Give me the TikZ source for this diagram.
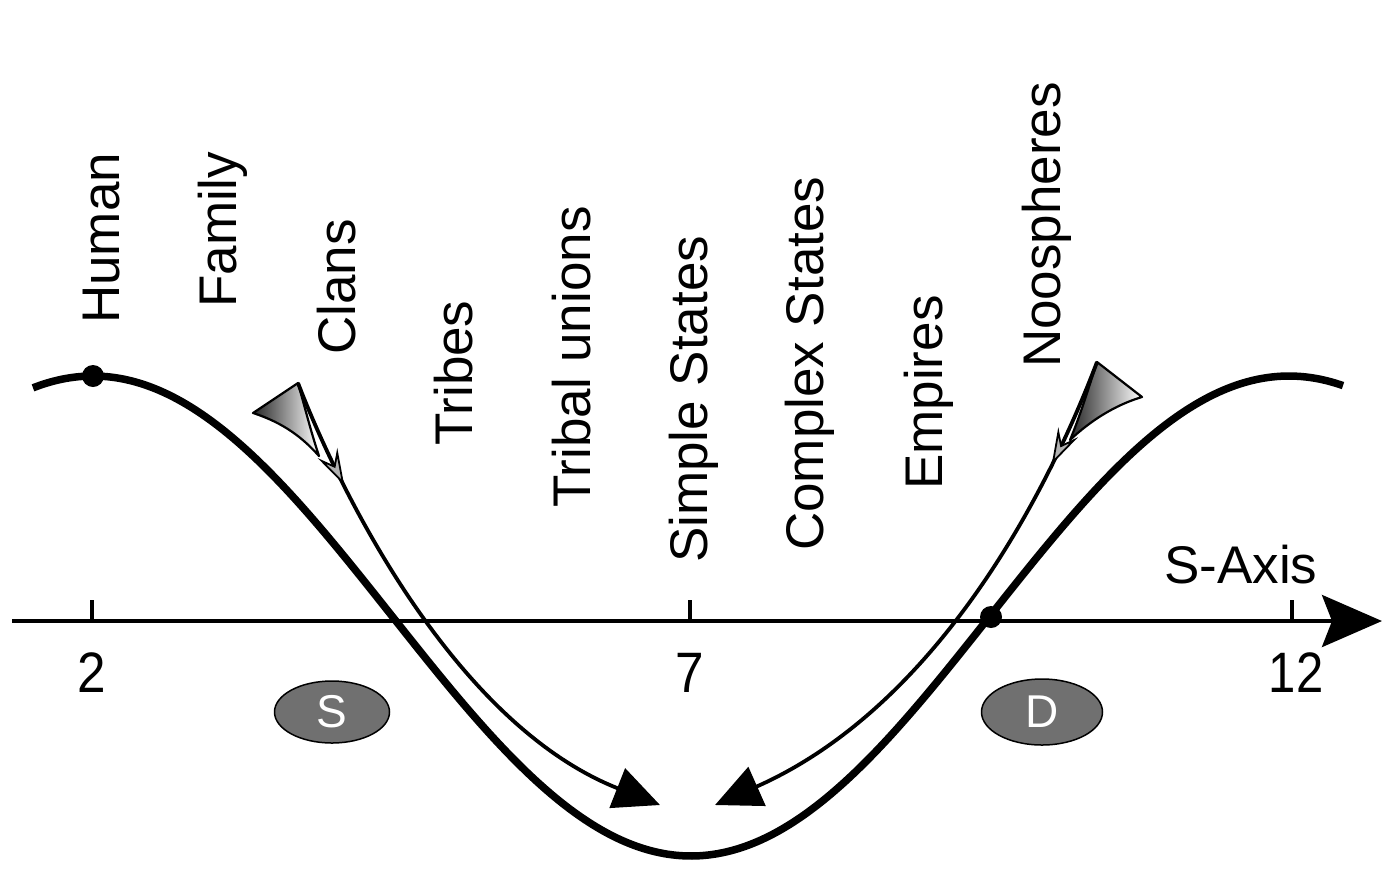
\documentclass[tikz,border=0pt]{standalone}
\usepackage{fontspec}
\setmainfont{Liberation Sans}
\usetikzlibrary{arrows.meta,shapes.geometric,decorations.markings}
\begin{document}
\begin{tikzpicture}[x=1pt,y=-1pt,
  lbl/.style={rotate=90, anchor=base west, inner sep=0pt, font=\fontsize{53}{60}\selectfont},
  tickmark/.style={line width=4pt},
  numlbl/.style={inner sep=0pt, font=\fontsize{57}{60}\selectfont},
  dotc/.style={circle, fill=black, inner sep=0pt, minimum size=22pt},
  oval/.style={ellipse, draw=black, line width=1.5pt, fill=black!56, text=white, inner sep=0pt, font=\fontsize{46}{50}\selectfont},
  swoosh/.style={draw=black, line width=2.2pt, line join=round, left color=black!85, right color=white},
  flow/.style={line width=3.8pt, -{Triangle[length=46pt,width=42pt]},
    postaction={decorate},
    decoration={markings, mark=at position 112pt with {\arrow{Stealth[length=36pt,width=22pt,inset=14pt,fill=black!30,line width=1.8pt]}}}}
]
\useasboundingbox (0,0) rectangle (1399,892);
\fill[white] (0,0) rectangle (1399,892);

% axis
\coordinate (axL) at (12,621);
\coordinate (axR) at (1382,621);
\draw[line width=4pt, -{Stealth[length=60pt,width=52pt,inset=10pt]}] (axL) -- (axR);
\draw[tickmark] (92,600) -- (92,621);
\draw[tickmark] (690,600) -- (690,621);
\draw[tickmark] (1292,600) -- (1292,621);
\node[numlbl] (n2) at (92,673) {\scalebox{0.9}[1]{2}};
\node[numlbl] (n7) at (690,673) {\scalebox{0.9}[1]{7}};
\node[numlbl] (n12) at (1296,673) {\scalebox{0.86}[1]{12}};
\node[inner sep=0pt, anchor=base west, font=\fontsize{53}{60}\selectfont] (saxis) at (1164,583) {S-Axis};

% thick cosine curve
\draw[line width=7.5pt] plot[domain=33:1343, samples=160, smooth] (\x,{616-240*cos((\x-93)*0.301003)});
\node[dotc] (dotH) at (93,376) {};
\node[dotc] (dotD) at (991,617) {};

% vertical labels
\node[lbl] (human) at (119,324) {Human};
\node[lbl] (family) at (236,308) {Family};
\node[lbl] (clans) at (355,355) {Clans};
\node[lbl] (tribes) at (472,446) {Tribes};
\node[lbl] (tunions) at (590,508) {Tribal unions};
\node[lbl] (sstates) at (707,563) {Simple States};
\node[lbl] (cstates) at (823,551) {Complex States};
\node[lbl] (empires) at (942,490) {Empires};
\node[lbl] (noos) at (1060,368) {Noospheres};

% ovals
\node[oval, minimum width=115pt, minimum height=62pt] (S) at (332,712) {S};
\node[oval, minimum width=121pt, minimum height=66pt] (D) at (1042,712) {D};

% swooshes
\draw[swoosh] (298,383) .. controls (305,408) and (311,432) .. (319,456)
  .. controls (303,438) and (284,423) .. (253,413) -- cycle;
\draw[swoosh] (1097,362) .. controls (1088,390) and (1080,416) .. (1070,440)
  .. controls (1090,421) and (1115,405) .. (1142,397) -- cycle;

% flow arrows
\coordinate (lstart) at (298,383);
\coordinate (lend) at (660,805);
\coordinate (rstart) at (1097,362);
\coordinate (rend) at (715,805);
\draw[flow] (lstart) .. controls (335,480) and (450,722) .. (lend);
\draw[flow] (rstart) .. controls (1060,460) and (952,700) .. (rend);
\end{tikzpicture}
\end{document}
